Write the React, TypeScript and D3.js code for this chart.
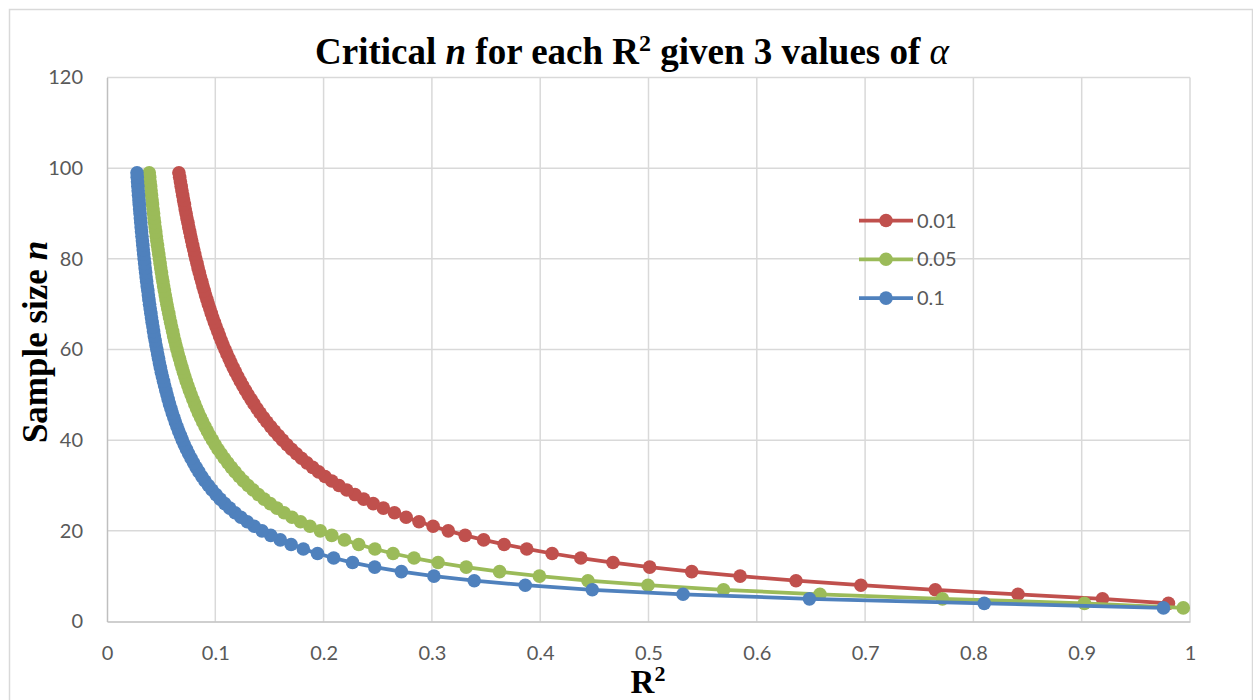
import React, { useEffect, useRef } from 'react';
import * as d3 from 'd3';

// sample size n (y) for each point
const sampleSizes = [
  3, 4, 5, 6, 7, 8, 9, 10, 11, 12, 13, 14, 15, 16, 17, 18, 19, 20, 21, 22,
  23, 24, 25, 26, 27, 28, 29, 30, 31, 32, 33, 34, 35, 36, 37, 38, 39, 40, 41, 42,
  43, 44, 45, 46, 47, 48, 49, 50, 51, 52, 53, 54, 55, 56, 57, 58, 59, 60, 61, 62,
  63, 64, 65, 66, 67, 68, 69, 70, 71, 72, 73, 74, 75, 76, 77, 78, 79, 80, 81, 82,
  83, 84, 85, 86, 87, 88, 89, 90, 91, 92, 93, 94, 95, 96, 97, 98, 99,
];

// critical R² for alpha = 0.01, n = 4..99
const r2Alpha001 = [
  0.9801, 0.9192, 0.8412, 0.7648, 0.6961, 0.6362, 0.5846, 0.5399, 0.5011,
  0.4672, 0.4375, 0.411, 0.3876, 0.3667, 0.3478, 0.3307, 0.3151, 0.3011, 0.2881,
  0.2762, 0.2654, 0.2552, 0.2458, 0.237, 0.229, 0.2214, 0.2142, 0.2076, 0.2013,
  0.1954, 0.1899, 0.1846, 0.1796, 0.1749, 0.1704, 0.1662, 0.1621, 0.1583, 0.1546,
  0.1511, 0.1477, 0.1445, 0.1414, 0.1385, 0.1357, 0.133, 0.1303, 0.1278, 0.1254,
  0.1231, 0.1209, 0.1187, 0.1166, 0.1146, 0.1127, 0.1108, 0.109, 0.1072, 0.1055,
  0.1039, 0.1023, 0.1007, 0.0992, 0.0977, 0.0963, 0.095, 0.0936, 0.0923, 0.091,
  0.0898, 0.0886, 0.0875, 0.0863, 0.0852, 0.0841, 0.0831, 0.082, 0.081, 0.0801,
  0.0791, 0.0782, 0.0773, 0.0764, 0.0755, 0.0747, 0.0738, 0.073, 0.0722, 0.0715,
  0.0707, 0.0699, 0.0692, 0.0685, 0.0678, 0.0671, 0.0664,
];

// critical R² for alpha = 0.05, n = 3..99
const r2Alpha005 = [
  0.9938, 0.9025, 0.7714, 0.6583, 0.5693, 0.4995, 0.4441, 0.3993, 0.3625, 0.3317,
  0.3057, 0.2835, 0.2641, 0.2474, 0.2324, 0.2193, 0.2075, 0.1969, 0.1874, 0.1787,
  0.1708, 0.1635, 0.1569, 0.1507, 0.1451, 0.1398, 0.1349, 0.1303, 0.126, 0.122,
  0.1183, 0.1148, 0.1115, 0.1083, 0.1054, 0.1025, 0.0999, 0.0974, 0.0949, 0.0927,
  0.0905, 0.0884, 0.0864, 0.0845, 0.0827, 0.081, 0.0793, 0.0777, 0.0761, 0.0747,
  0.0732, 0.0719, 0.0706, 0.0693, 0.0681, 0.0669, 0.0657, 0.0646, 0.0636, 0.0625,
  0.0615, 0.0606, 0.0596, 0.0587, 0.0578, 0.057, 0.0561, 0.0553, 0.0545, 0.0538,
  0.053, 0.0523, 0.0516, 0.0509, 0.0503, 0.0496, 0.049, 0.0484, 0.0478, 0.0472,
  0.0466, 0.046, 0.0455, 0.045, 0.0444, 0.0439, 0.0434, 0.043, 0.0425, 0.042,
  0.0416, 0.0411, 0.0407, 0.0403, 0.0398, 0.0394, 0.039,
];

// critical R² for alpha = 0.1, n = 3..99
const r2Alpha010 = [
  0.9755, 0.81, 0.6486, 0.5319, 0.4481, 0.3862, 0.3391, 0.3019, 0.2718, 0.2472,
  0.2267, 0.2093, 0.1944, 0.1813, 0.17, 0.16, 0.1512, 0.1431, 0.1359, 0.1295,
  0.1236, 0.1182, 0.1133, 0.1087, 0.1045, 0.1007, 0.097, 0.0937, 0.0905, 0.0876,
  0.0849, 0.0823, 0.0799, 0.0776, 0.0754, 0.0734, 0.0714, 0.0696, 0.0679, 0.0662,
  0.0646, 0.0631, 0.0617, 0.0603, 0.059, 0.0577, 0.0565, 0.0554, 0.0543, 0.0532,
  0.0522, 0.0512, 0.0502, 0.0493, 0.0484, 0.0476, 0.0468, 0.046, 0.0452, 0.0445,
  0.0437, 0.043, 0.0424, 0.0417, 0.0411, 0.0405, 0.0399, 0.0393, 0.0387, 0.0382,
  0.0377, 0.0371, 0.0366, 0.0361, 0.0357, 0.0352, 0.0348, 0.0343, 0.0339, 0.0335,
  0.0331, 0.0327, 0.0323, 0.0319, 0.0315, 0.0312, 0.0308, 0.0305, 0.0301, 0.0298,
  0.0295, 0.0291, 0.0288, 0.0285, 0.0282, 0.0279, 0.0277,
];

const seriesNames = ['0.01', '0.05', '0.1'];
const seriesColors = ['#C0504D', '#9BBB59', '#4F81BD'];
const xTicks = [0, 0.1, 0.2, 0.3, 0.4, 0.5, 0.6, 0.7, 0.8, 0.9, 1];
const yTicks = [0, 20, 40, 60, 80, 100, 120];

type Pt = [number, number];

const App = () => {
  const ref = useRef<SVGSVGElement>(null);

  useEffect(() => {
    const width = 1253;
    const height = 700;
    const svg = d3.select(ref.current);
    svg.selectAll('*').remove();

    const x = d3.scaleLinear().domain([0, 1]).range([107, 1190]);
    const y = d3.scaleLinear().domain([0, 120]).range([621.5, 77.5]);
    const tickFont = 'Lato, "Liberation Sans", sans-serif';
    const serif = '"Liberation Serif", "Times New Roman", serif';

    // chart frame
    svg
      .append('rect')
      .attr('x', 9.5)
      .attr('y', 9.5)
      .attr('width', 1243)
      .attr('height', height + 20)
      .attr('fill', 'white')
      .attr('stroke', '#d9d9d9')
      .attr('stroke-width', 1.5);

    // gridlines
    svg
      .append('g')
      .selectAll('line')
      .data(xTicks.slice(1))
      .join('line')
      .attr('x1', (d) => x(d))
      .attr('x2', (d) => x(d))
      .attr('y1', y(0))
      .attr('y2', y(120))
      .attr('stroke', '#d9d9d9')
      .attr('stroke-width', 1.5);

    svg
      .append('g')
      .selectAll('line')
      .data(yTicks.slice(1))
      .join('line')
      .attr('x1', x(0))
      .attr('x2', x(1))
      .attr('y1', (d) => y(d))
      .attr('y2', (d) => y(d))
      .attr('stroke', '#d9d9d9')
      .attr('stroke-width', 1.5);

    // axes
    const xAxis = svg
      .append('g')
      .attr('transform', `translate(0,${y(0)})`)
      .call(
        d3
          .axisBottom(x)
          .tickValues(xTicks)
          .tickSize(0)
          .tickPadding(24)
          .tickFormat((d) => String(d)),
      );
    xAxis.select('.domain').attr('stroke', '#bfbfbf').attr('stroke-width', 1.5);
    xAxis
      .selectAll('text')
      .attr('font-family', tickFont)
      .attr('font-size', 20)
      .attr('fill', '#595959');

    const yAxis = svg
      .append('g')
      .attr('transform', `translate(${x(0)},0)`)
      .call(
        d3
          .axisLeft(y)
          .tickValues(yTicks)
          .tickSize(0)
          .tickPadding(24)
          .tickFormat((d) => String(d)),
      );
    yAxis.select('.domain').attr('stroke', '#bfbfbf').attr('stroke-width', 1.5);
    yAxis
      .selectAll('text')
      .attr('font-family', tickFont)
      .attr('font-size', 20)
      .attr('fill', '#595959');

    // series, red first so blue ends on top
    const series: Pt[][] = [
      r2Alpha001.map((v, i) => [v, sampleSizes[i + 1]] as Pt),
      r2Alpha005.map((v, i) => [v, sampleSizes[i]] as Pt),
      r2Alpha010.map((v, i) => [v, sampleSizes[i]] as Pt),
    ];
    const line = d3
      .line<Pt>()
      .x((d) => x(d[0]))
      .y((d) => y(d[1]));

    series.forEach((pts, si) => {
      const g = svg.append('g');
      g.append('path')
        .attr('d', line(pts))
        .attr('fill', 'none')
        .attr('stroke', seriesColors[si])
        .attr('stroke-width', 3.75)
        .attr('stroke-linejoin', 'round')
        .attr('stroke-linecap', 'round');
      g.selectAll('circle')
        .data(pts)
        .join('circle')
        .attr('cx', (d) => x(d[0]))
        .attr('cy', (d) => y(d[1]))
        .attr('r', 6.8)
        .attr('fill', seriesColors[si]);
    });

    // legend
    const legend = svg.append('g');
    seriesNames.forEach((name, i) => {
      const ly = 220.5 + i * 38.8;
      legend
        .append('line')
        .attr('x1', 859)
        .attr('x2', 913)
        .attr('y1', ly)
        .attr('y2', ly)
        .attr('stroke', seriesColors[i])
        .attr('stroke-width', 3.75);
      legend
        .append('circle')
        .attr('cx', 886)
        .attr('cy', ly)
        .attr('r', 6.8)
        .attr('fill', seriesColors[i]);
      legend
        .append('text')
        .attr('x', 917)
        .attr('y', ly)
        .attr('dy', '0.35em')
        .attr('font-family', tickFont)
        .attr('font-size', 20)
        .attr('fill', '#595959')
        .text(name);
    });

    // title
    const title = svg
      .append('text')
      .attr('x', 632)
      .attr('y', 64)
      .attr('text-anchor', 'middle')
      .attr('font-family', serif)
      .attr('font-weight', 'bold')
      .attr('font-size', 37)
      .attr('fill', 'black');
    title.append('tspan').text('Critical ');
    title.append('tspan').attr('font-style', 'italic').text('n');
    title.append('tspan').text(' for each R');
    title.append('tspan').attr('font-size', 24).attr('dy', -13).text('2');
    title.append('tspan').attr('dy', 13).text(' given 3 values of ');
    title.append('tspan').attr('font-style', 'italic').attr('font-weight', 'normal').text('α');

    // y axis title
    const yTitle = svg
      .append('text')
      .attr('transform', 'translate(47,342) rotate(-90)')
      .attr('text-anchor', 'middle')
      .attr('font-family', serif)
      .attr('font-weight', 'bold')
      .attr('font-size', 35)
      .attr('fill', 'black');
    yTitle.append('tspan').text('Sample size ');
    yTitle.append('tspan').attr('font-style', 'italic').text('n');

    // x axis title
    const xTitle = svg
      .append('text')
      .attr('x', 648)
      .attr('y', 693)
      .attr('text-anchor', 'middle')
      .attr('font-family', serif)
      .attr('font-weight', 'bold')
      .attr('font-size', 33)
      .attr('fill', 'black');
    xTitle.append('tspan').text('R');
    xTitle.append('tspan').attr('font-size', 22).attr('dy', -12).text('2');
  }, []);

  return (
    <svg
      ref={ref}
      width={1253}
      height={700}
      style={{ position: 'absolute', left: 0, top: 0 }}
    />
  );
};

export default App;
